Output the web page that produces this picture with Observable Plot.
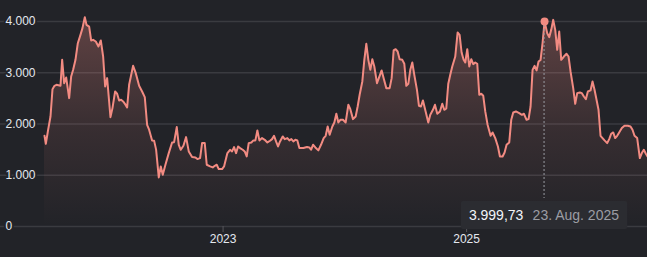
<!DOCTYPE html>
<html>
<head>
<meta charset="utf-8">
<script src="https://cdn.jsdelivr.net/npm/d3@7"></script>
<script src="https://cdn.jsdelivr.net/npm/@observablehq/plot@0.6"></script>
<style>
  html, body { margin: 0; padding: 0; background: #222328; }
  body { width: 647px; height: 257px; overflow: hidden; }
  svg { display: block; }
</style>
</head>
<body>
<div id="chart"></div>
<script>
// ---- data ----
const dates = [
  "2021-07-14","2021-07-18","2021-07-25","2021-08-01","2021-08-07","2021-08-13","2021-08-19","2021-08-31",
  "2021-09-05","2021-09-11","2021-09-17","2021-09-26","2021-10-02","2021-10-08","2021-10-15","2021-10-22",
  "2021-10-30","2021-11-05","2021-11-12","2021-11-17","2021-11-25","2021-12-01","2021-12-07","2021-12-15",
  "2021-12-23","2021-12-30","2022-01-06","2022-01-12","2022-01-18","2022-01-28","2022-02-03","2022-02-11",
  "2022-02-17","2022-02-23","2022-03-01","2022-03-07","2022-03-13","2022-03-19","2022-03-25","2022-04-06",
  "2022-04-14","2022-04-24","2022-05-03","2022-05-11","2022-05-18","2022-05-24","2022-06-02","2022-06-08",
  "2022-06-14","2022-06-22","2022-06-28","2022-07-04","2022-07-12","2022-07-22","2022-08-01","2022-08-07",
  "2022-08-15","2022-08-21","2022-08-27","2022-09-04","2022-09-12","2022-09-20","2022-09-30","2022-10-10",
  "2022-10-16","2022-10-24","2022-10-30","2022-11-07","2022-11-13","2022-11-23","2022-12-01","2022-12-07",
  "2022-12-13","2022-12-19","2022-12-29","2023-01-04","2023-01-14","2023-01-22","2023-01-28","2023-02-03",
  "2023-02-09","2023-02-15","2023-02-21","2023-03-01","2023-03-07","2023-03-13","2023-03-19","2023-03-27",
  "2023-04-02","2023-04-08","2023-04-14","2023-04-20","2023-04-28","2023-05-06","2023-05-14","2023-05-22",
  "2023-05-28","2023-06-03","2023-06-09","2023-06-15","2023-06-21","2023-06-29","2023-07-05","2023-07-13",
  "2023-07-19","2023-07-25","2023-07-31","2023-08-06","2023-08-12","2023-08-18","2023-08-30","2023-09-10",
  "2023-09-17","2023-09-22","2023-09-28","2023-10-05","2023-10-14","2023-10-22","2023-10-30","2023-11-05",
  "2023-11-11","2023-11-17","2023-11-25","2023-12-01","2023-12-07","2023-12-13","2023-12-19","2023-12-27",
  "2024-01-04","2024-01-12","2024-01-18","2024-01-26","2024-02-03","2024-02-09","2024-02-15","2024-02-23",
  "2024-02-29","2024-03-06","2024-03-12","2024-03-18","2024-03-24","2024-03-30","2024-04-07","2024-04-15",
  "2024-04-21","2024-04-27","2024-05-05","2024-05-15","2024-05-21","2024-05-27","2024-06-02","2024-06-08",
  "2024-06-14","2024-06-22","2024-06-28","2024-07-04","2024-07-10","2024-07-16","2024-07-22","2024-07-28",
  "2024-08-05","2024-08-11","2024-08-17","2024-08-23","2024-08-31","2024-09-08","2024-09-14","2024-09-22",
  "2024-09-28","2024-10-05","2024-10-13","2024-10-20","2024-10-26","2024-11-01","2024-11-07","2024-11-13",
  "2024-11-19","2024-11-28","2024-12-05","2024-12-11","2024-12-17","2024-12-23","2024-12-28","2025-01-03",
  "2025-01-09","2025-01-15","2025-01-21","2025-01-27","2025-02-02","2025-02-08","2025-02-14","2025-02-20",
  "2025-02-26","2025-03-05","2025-03-14","2025-03-20","2025-03-28","2025-04-05","2025-04-11","2025-04-19",
  "2025-04-25","2025-05-01","2025-05-09","2025-05-15","2025-05-21","2025-05-29","2025-06-08","2025-06-16",
  "2025-06-22","2025-06-30","2025-07-06","2025-07-12","2025-07-18","2025-07-24","2025-07-30","2025-08-05",
  "2025-08-11","2025-08-17","2025-08-23","2025-08-31","2025-09-06","2025-09-12","2025-09-18","2025-09-24",
  "2025-09-30","2025-10-06","2025-10-12","2025-10-20","2025-10-28","2025-11-03","2025-11-09","2025-11-17",
  "2025-11-23","2025-11-29","2025-12-07","2025-12-13","2025-12-19","2025-12-25","2025-12-31","2026-01-08",
  "2026-01-14","2026-01-20","2026-01-26","2026-02-01","2026-02-07","2026-02-13","2026-02-19","2026-02-27",
  "2026-03-05","2026-03-11","2026-03-17","2026-03-23","2026-03-29","2026-04-04","2026-04-12","2026-04-20",
  "2026-04-30","2026-05-08","2026-05-14","2026-05-20","2026-05-28","2026-06-05","2026-06-11","2026-06-17",
  "2026-06-23","2026-06-28"
];
const prices = [
  1771,1614,1890,2147,2680,2745,2765,2745,
  3252,2797,2908,2505,2927,3057,3252,3577,
  3740,3870,4085,3935,3900,3630,3642,3610,
  3512,3630,3317,2732,2895,2134,2310,2635,
  2590,2460,2472,2440,2388,2323,2765,3135,
  2992,2745,2635,2525,1985,1888,1680,1675,
  1500,958,1172,1010,1205,1432,1640,1646,
  1940,1594,1497,1575,1744,1465,1355,1348,
  1315,1335,1627,1627,1205,1172,1153,1185,
  1205,1120,1120,1172,1432,1497,1465,1550,
  1432,1562,1530,1497,1465,1367,1627,1640,
  1680,1680,1875,1680,1725,1692,1640,1673,
  1705,1770,1660,1562,1660,1757,1705,1725,
  1680,1705,1660,1692,1680,1530,1530,1550,
  1543,1497,1595,1543,1485,1595,1725,1770,
  1952,1790,1952,2030,2200,2030,2082,2082,
  2030,2375,2290,2095,2147,2342,2570,2830,
  3252,3565,3252,3057,3265,3122,2797,2940,
  3045,2895,2700,2700,2895,3435,3460,3415,
  3265,3252,3175,2745,2785,3057,3200,2960,
  2667,2355,2342,2460,2245,2030,2180,2277,
  2375,2200,2245,2395,2277,2303,2785,2960,
  3122,3317,3785,3740,3395,3252,3200,3460,
  3122,3265,3168,3200,3175,2570,2590,2550,
  2245,1985,1770,1835,1725,1562,1367,1367,
  1445,1595,1640,2082,2225,2245,2212,2180,
  2200,2082,2095,2342,3057,3135,3045,3220,
  3250,3580,3999.73,3772,3695,3837,4032,3837,
  3447,3805,3252,3317,3370,3317,3025,2700,
  2395,2602,2615,2602,2537,2485,2635,2655,
  2830,2667,2472,2277,1770,1725,1680,1627,
  1705,1810,1835,1725,1770,1835,1920,1965,
  1965,1952,1887,1770,1725,1335,1432,1497,
  1420,1367
];
const yTicks = [0, 1000, 2000, 3000, 4000];
const xTickDates = ["2023-01-01", "2025-01-01"];
const xDomain = ["2021-07-14", "2026-06-28"];
const highlightDate = "2025-08-23";
const highlightDateLabel = "23. Aug. 2025";

// ---- build ----
const de = d3.formatLocale({decimal: ",", thousands: ".", grouping: [3], currency: ["", " €"]});
const fmtInt = de.format(",.0f");
const fmtVal = de.format(",.2f");

const data = dates.map((d, i) => ({date: new Date(d), value: prices[i]}));
const hi = data.find(d => +d.date === +new Date(highlightDate));

const BG = "#222328";
const LINE = "#f28b82";
const FONT = "'Liberation Sans', Arial, Helvetica, sans-serif";

const gradientMark = () => {
  const ns = "http://www.w3.org/2000/svg";
  const defs = document.createElementNS(ns, "defs");
  const g = document.createElementNS(ns, "linearGradient");
  g.setAttribute("id", "areaGrad");
  g.setAttribute("x1", "0"); g.setAttribute("x2", "0");
  g.setAttribute("y1", "0"); g.setAttribute("y2", "1");
  [["0%", 0.30], ["55%", 0.10], ["100%", 0.0]].forEach(([o, a]) => {
    const s = document.createElementNS(ns, "stop");
    s.setAttribute("offset", o);
    s.setAttribute("stop-color", LINE);
    s.setAttribute("stop-opacity", a);
    g.appendChild(s);
  });
  defs.appendChild(g);
  return defs;
};

const plot = Plot.plot({
  width: 647,
  height: 257,
  marginLeft: 0,
  marginRight: 0,
  marginTop: 0,
  marginBottom: 31,
  style: {background: BG, fontFamily: FONT, overflow: "hidden"},
  x: {type: "utc", domain: xDomain.map(d => new Date(d)), range: [44, 647], axis: null},
  y: {domain: [0, 4000], range: [226, 21], axis: null},
  marks: [
    gradientMark,
    Plot.ruleY(yTicks, {stroke: "#3a3b40", strokeWidth: 1.5}),
    Plot.areaY(data, {x: "date", y: "value", fill: "url(#areaGrad)"}),
    Plot.lineY(data, {x: "date", y: "value", stroke: LINE, strokeWidth: 2, strokeLinejoin: "round"}),
    Plot.text(yTicks, {
      y: d => d, frameAnchor: "left", dx: 5, textAnchor: "start",
      text: d => fmtInt(d), fill: "#e4e8ef", fontSize: 12,
      stroke: BG, strokeWidth: 4, paintOrder: "stroke"
    }),
    Plot.axisX({
      ticks: xTickDates.map(d => new Date(d)),
      tickFormat: d3.utcFormat("%Y"),
      tickSize: 6, tickPadding: 2,
      stroke: "#55565b", fill: "#e4e8ef", fontSize: 12
    }),
    Plot.dot([hi], {x: "date", y: "value", r: 4, fill: LINE, stroke: null})
  ]
});

document.getElementById("chart").appendChild(plot);

// ---- tooltip positioned through the plot's scales ----
(function () {
  const ns = "http://www.w3.org/2000/svg";
  const sx = plot.scale("x"), sy = plot.scale("y");
  const px = sx.apply(hi.date), py = sy.apply(hi.value);
  const boxBottom = sy.apply(0) + 3;
  const boxH = 28, padX = 8, gap = 9;
  const boxTop = boxBottom - boxH;

  const dotGroup = plot.querySelector('g[aria-label="dot"]');
  const vline = document.createElementNS(ns, "line");
  vline.setAttribute("x1", px); vline.setAttribute("x2", px);
  vline.setAttribute("y1", py); vline.setAttribute("y2", boxTop - 3);
  vline.setAttribute("stroke", "#9a9ca2");
  vline.setAttribute("stroke-width", 1);
  vline.setAttribute("stroke-dasharray", "2,2");
  plot.insertBefore(vline, dotGroup);

  const g = document.createElementNS(ns, "g");
  g.setAttribute("text-anchor", "start");
  const rect = document.createElementNS(ns, "rect");
  rect.setAttribute("fill", "#2b2c31");
  rect.setAttribute("rx", 2);
  g.appendChild(rect);
  const mk = (txt, fill) => {
    const t = document.createElementNS(ns, "text");
    t.textContent = txt;
    t.setAttribute("fill", fill);
    t.setAttribute("font-size", 14);
    t.setAttribute("font-family", FONT);
    t.setAttribute("text-anchor", "start");
    g.appendChild(t);
    return t;
  };
  const t1 = mk(fmtVal(hi.value), "#f2f5fa");
  const t2 = mk(highlightDateLabel, "#9b9da4");
  plot.appendChild(g);
  const w1 = t1.getBBox().width, w2 = t2.getBBox().width;
  const boxW = padX + w1 + gap + w2 + padX;
  const bx = px - boxW / 2;
  rect.setAttribute("x", bx); rect.setAttribute("y", boxTop);
  rect.setAttribute("width", boxW); rect.setAttribute("height", boxH);
  const base = boxTop + 19;
  t1.setAttribute("x", bx + padX); t1.setAttribute("y", base);
  t2.setAttribute("x", bx + padX + w1 + gap); t2.setAttribute("y", base);
})();
</script>
</body>
</html>
